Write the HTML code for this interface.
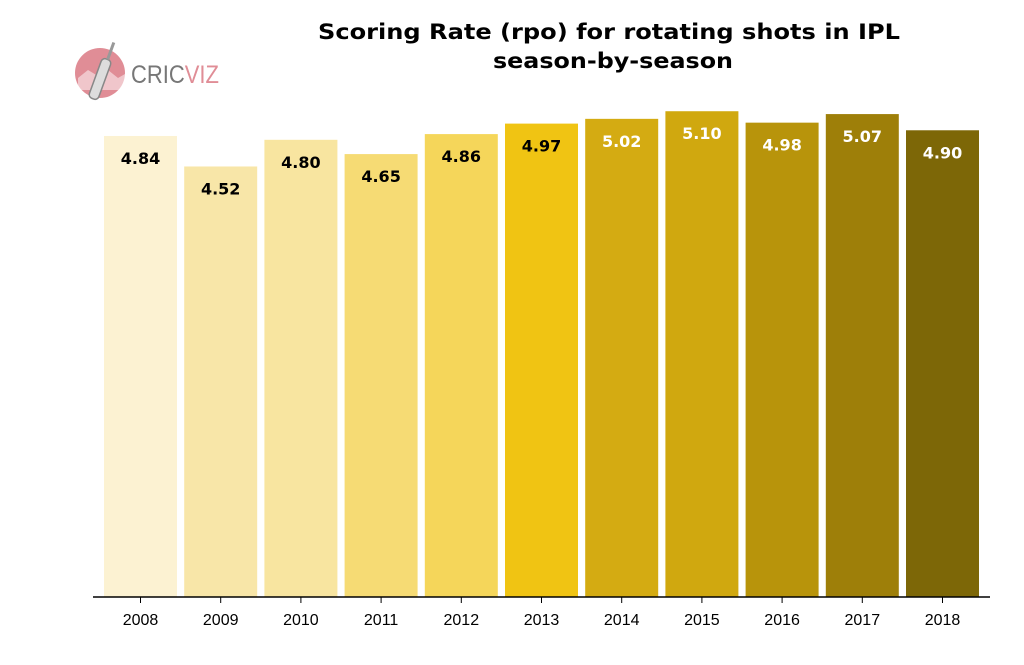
<!DOCTYPE html>
<html><head><meta charset="utf-8"><style>
body{margin:0;background:#fff;font-family:"Liberation Sans","DejaVu Sans",sans-serif}
</style></head><body>
<svg id="c" width="1024" height="660" xmlns="http://www.w3.org/2000/svg">
<rect width="1024" height="660" fill="#fff"/>
<g>
<circle cx="100" cy="73" r="25" fill="#e08d96"/>
<path d="M78 78 L88 70 L98 76 L108 70 L118 78 L125 74 L125 90 L78 90Z" fill="#fff" opacity="0.5"/>
<rect x="95" y="58" width="10" height="42" rx="4" fill="#ddd" stroke="#888" stroke-width="1.5" transform="rotate(20 100 79)"/>
<rect x="99" y="40" width="3" height="18" fill="#999" transform="rotate(20 100 79)"/>
<text x="131" y="83" font-size="25" fill="#777" textLength="88" lengthAdjust="spacingAndGlyphs">CRIC<tspan fill="#e08d96">VIZ</tspan></text>
</g>
<text x="609" y="39" font-family="DejaVu Sans" font-size="21" font-weight="bold" text-anchor="middle" textLength="582" lengthAdjust="spacingAndGlyphs">Scoring Rate (rpo) for rotating shots in IPL</text>
<text x="613" y="68" font-family="DejaVu Sans" font-size="21" font-weight="bold" text-anchor="middle" textLength="240" lengthAdjust="spacingAndGlyphs">season-by-season</text>
<g id="bars"></g>
<line x1="93" y1="597" x2="990" y2="597" stroke="#000" stroke-width="1.5"/>
</svg>
<script>
const categories=["2008","2009","2010","2011","2012","2013","2014","2015","2016","2017","2018"];
const values=[4.84,4.52,4.80,4.65,4.86,4.97,5.02,5.10,4.98,5.07,4.90];
const colors=["#fcf2d2","#f8e6a8","#f8e5a0","#f6db74","#f5d65a","#f0c413","#d4ab12","#d0a80f","#b8940b","#9e7f09","#7d6707"];
const labelColors=["#000","#000","#000","#000","#000","#000","#fff","#fff","#fff","#fff","#fff"];
const NS="http://www.w3.org/2000/svg";
const g=document.getElementById('bars');
const x0=104,step=80.2,bw=73,base=597,k=95.25;
const xs=i=>x0+i*step, ys=v=>base-v*k;
function mk(t,a){const e=document.createElementNS(NS,t);for(const n in a)e.setAttribute(n,a[n]);g.appendChild(e);return e;}
values.forEach((v,i)=>{
 const r=mk('rect',{x:xs(i),y:ys(v),width:bw,height:base-ys(v),fill:colors[i]});
 
 
 const l=mk('text',{x:xs(i)+bw/2,y:ys(v)+28,'font-family':'DejaVu Sans','font-size':16,'font-weight':'bold','text-anchor':'middle',fill:labelColors[i]});
 l.textContent=v.toFixed(2);
 
 
 const t=mk('line',{x1:xs(i)+bw/2,x2:xs(i)+bw/2,y1:base,y2:base+6,stroke:'#000','stroke-width':1});
 
 
 const c=mk('text',{x:xs(i)+bw/2,y:625,'font-size':16,'text-anchor':'middle',fill:'#000'});
 c.textContent=categories[i];
 
 
});
</script>
</body></html>
